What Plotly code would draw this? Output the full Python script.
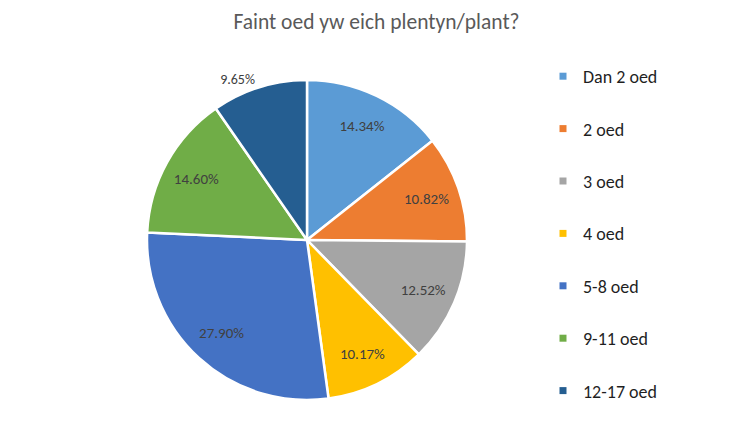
import plotly.graph_objects as go

categories = ["Dan 2 oed", "2 oed", "3 oed", "4 oed", "5-8 oed", "9-11 oed", "12-17 oed"]
values = [14.34, 10.82, 12.52, 10.17, 27.90, 14.60, 9.65]
colors = ["#5B9BD5", "#ED7D31", "#A5A5A5", "#FFC000", "#4472C4", "#70AD47", "#255E91"]
title = "Faint oed yw eich plentyn/plant?"

W, H = 737, 444
cx, cy, r = 299, 232, 160
FONT = "Calibri, Carlito, Lato, sans-serif"
dom = dict(x=[(cx - r) / W, (cx + r) / W], y=[(H - cy - r) / H, (H - cy + r) / H])
labels_txt = [f"{v:.2f}%" for v in values]
n = len(values)

fig = go.Figure()
# main pie: slices + the one outside label
fig.add_trace(go.Pie(
    labels=categories, values=values, sort=False, direction="clockwise", rotation=0,
    marker=dict(colors=colors, line=dict(color="white", width=2.5)),
    text=labels_txt, texttemplate="%{text}",
    textposition=["none"] * (n - 1) + ["outside"],
    outsidetextfont=dict(family=FONT, size=14, color="#404040"),
    showlegend=False, hoverinfo="label+percent", domain=dom,
))
# transparent ring overlay to place inside labels toward the rim
fig.add_trace(go.Pie(
    labels=categories, values=values, sort=False, direction="clockwise", rotation=0, hole=0.58,
    marker=dict(colors=["rgba(0,0,0,0)"] * n, line=dict(width=0)),
    text=labels_txt, texttemplate="%{text}",
    textposition=["inside"] * (n - 1) + ["outside"],
    insidetextorientation="horizontal",
    insidetextfont=dict(family=FONT, size=15, color="#404040"),
    outsidetextfont=dict(family=FONT, size=14, color="rgba(0,0,0,0)"),
    showlegend=False, hoverinfo="skip", domain=dom,
))
for c, col in zip(categories, colors):
    fig.add_trace(go.Scatter(x=[None], y=[None], mode="markers", name=c, legendgroup=c,
                             marker=dict(symbol="square", size=7, color=col)))

fig.update_layout(
    width=W, height=H, margin=dict(l=0, r=0, t=0, b=0),
    paper_bgcolor="white", plot_bgcolor="white",
    xaxis=dict(visible=False), yaxis=dict(visible=False),
    title=dict(text=title, x=0.5, xanchor="center", y=1 - 13 / H, yanchor="middle",
               font=dict(family=FONT, size=21.5, color="#595959")),
    legend=dict(x=535 / W, y=1 - 50 / H, xanchor="left", yanchor="top", tracegroupgap=26,
                font=dict(family=FONT, size=18, color="#1f1f1f")),
)
fig.write_html("out.html")
